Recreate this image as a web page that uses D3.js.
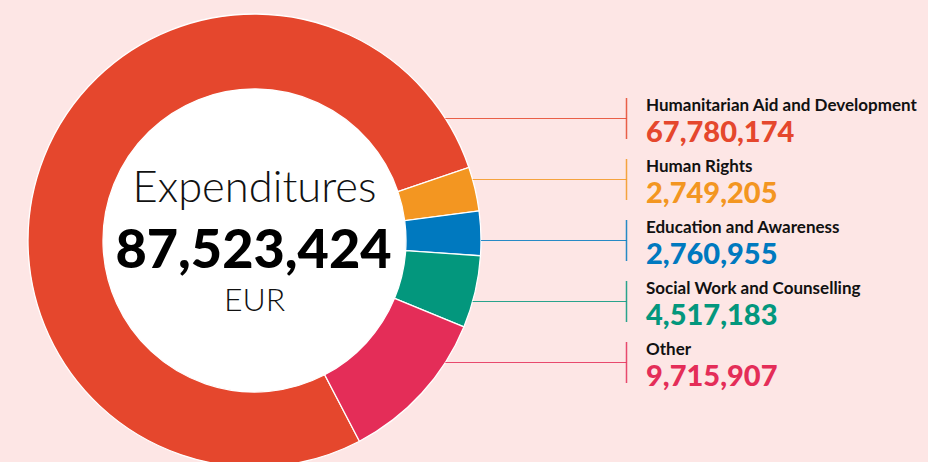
<!DOCTYPE html>
<html>
<head>
<meta charset="utf-8">
<script src="https://cdn.jsdelivr.net/npm/d3@7"></script>
<style>
  html, body { margin: 0; padding: 0; background: #fde6e5; }
  svg { display: block; }
</style>
</head>
<body>
<div id="chart"></div>
<script>
/*---------- DATA ----------*/
const categories = [
  "Humanitarian Aid and Development",
  "Human Rights",
  "Education and Awareness",
  "Social Work and Counselling",
  "Other",
];
const values = [67780174, 2749205, 2760955, 4517183, 9715907];
const colors = ["#e5472d", "#f39621", "#0079bf", "#03977d", "#e42d58"];
const centerTitle = "Expenditures";
const centerUnit = "EUR";

/*---------- SETUP ----------*/
const width = 928;
const height = 462;
const cx = 254.5;
const cy = 240.5;
const outerR = 226.5;
const innerR = 151.5;

const svg = d3
  .select("#chart")
  .append("svg")
  .attr("width", width)
  .attr("height", height)
  .attr("viewBox", `0 0 ${width} ${height}`);

svg.append("rect").attr("width", width).attr("height", height).attr("fill", "#fde6e5");

const data = categories.map((c, i) => ({ name: c, value: values[i], color: colors[i] }));
const total = d3.sum(values);

// Big slice starts lower right and wraps around to the upper right
const start = (152.4 * Math.PI) / 180;
const pie = d3
  .pie()
  .sort(null)
  .value((d) => d.value)
  .startAngle(start)
  .endAngle(start + 2 * Math.PI);

const arc = d3.arc().innerRadius(innerR).outerRadius(outerR);

const g = svg.append("g").attr("transform", `translate(${cx},${cy})`);

// Inner white disc
g.append("circle").attr("r", innerR).attr("fill", "#ffffff");

g.selectAll("path.slice")
  .data(pie(data))
  .join("path")
  .attr("class", "slice")
  .attr("d", arc)
  .attr("fill", (d) => d.data.color)
  .attr("stroke", "#ffffff")
  .attr("stroke-width", 1.3);

/*---------- CENTER LABEL ----------*/
g.append("text")
  .attr("x", 0)
  .attr("y", 202 - cy)
  .attr("text-anchor", "middle")
  .attr("font-family", "Lato, sans-serif")
  .attr("font-weight", 300)
  .attr("font-size", "43.5px")
  .attr("fill", "#111")
  .text(centerTitle);

g.append("text")
  .attr("x", -1)
  .attr("y", 268 - cy)
  .attr("text-anchor", "middle")
  .attr("font-family", "Lato, sans-serif")
  .attr("font-weight", 900)
  .attr("font-size", "54px")
  .attr("fill", "#000")
  .text(d3.format(",")(total));

g.append("text")
  .attr("x", 0)
  .attr("y", 311 - cy)
  .attr("text-anchor", "middle")
  .attr("font-family", "Lato, sans-serif")
  .attr("font-weight", 300)
  .attr("font-size", "32px")
  .attr("fill", "#111")
  .text(centerUnit);

/*---------- LEGEND WITH LEADERS ----------*/
const legendY = d3
  .scalePoint()
  .domain(categories)
  .range([118.5, 362.5]);
const tickX = 626.5;
const textX = 646;

const items = svg
  .selectAll("g.item")
  .data(data)
  .join("g")
  .attr("class", "item");

// horizontal leader from arc edge to the tick
items
  .append("line")
  .attr("x1", (d) => {
    const dy = legendY(d.name) - cy;
    return cx + Math.sqrt(outerR * outerR - dy * dy);
  })
  .attr("x2", tickX)
  .attr("y1", (d) => legendY(d.name))
  .attr("y2", (d) => legendY(d.name))
  .attr("stroke", (d) => d.color)
  .attr("stroke-opacity", 0.85)
  .attr("stroke-width", 1.2);

// vertical tick
items
  .append("line")
  .attr("x1", tickX)
  .attr("x2", tickX)
  .attr("y1", (d) => legendY(d.name) - 20.5)
  .attr("y2", (d) => legendY(d.name) + 20.5)
  .attr("stroke", (d) => d.color)
  .attr("stroke-opacity", 0.85)
  .attr("stroke-width", 1.5);

items
  .append("text")
  .attr("x", textX)
  .attr("y", (d) => legendY(d.name) - 8)
  .attr("font-family", "Lato, sans-serif")
  .attr("font-weight", 700)
  .attr("font-size", "17px")
  .attr("fill", "#111")
  .text((d) => d.name);

items
  .append("text")
  .attr("x", textX)
  .attr("y", (d) => legendY(d.name) + 23)
  .attr("font-family", "Lato, sans-serif")
  .attr("font-weight", 900)
  .attr("font-size", "29px")
  .attr("fill", (d) => d.color)
  .text((d) => d3.format(",")(d.value));
</script>
</body>
</html>
